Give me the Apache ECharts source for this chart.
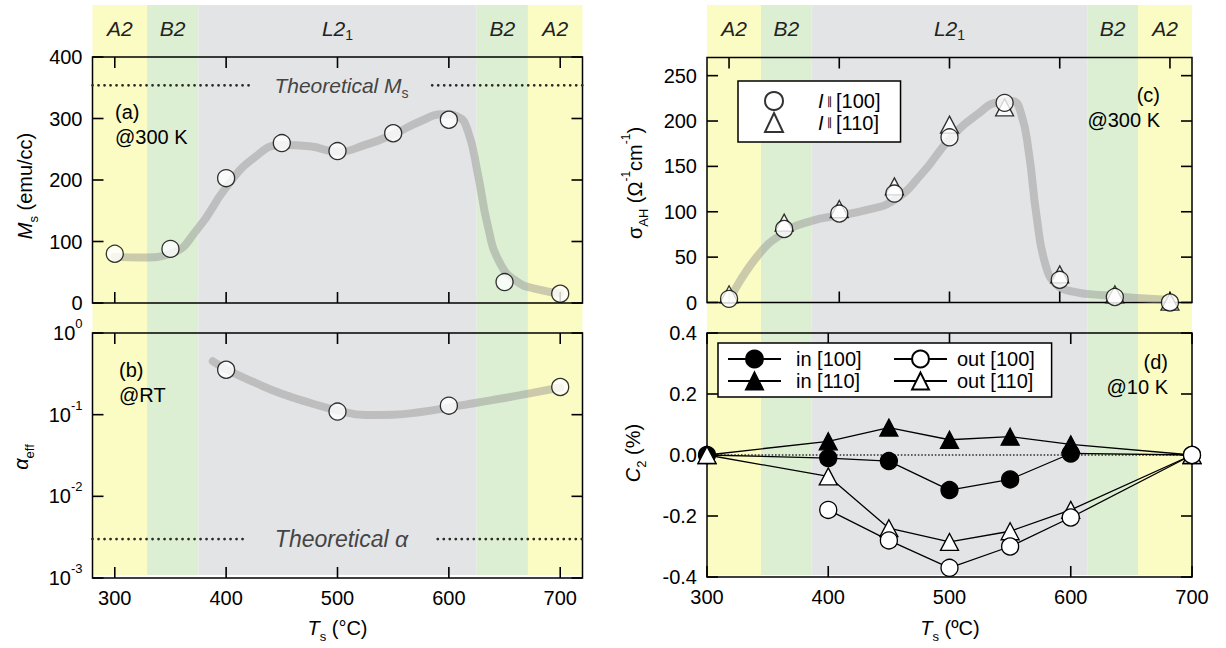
<!DOCTYPE html>
<html><head><meta charset="utf-8">
<script src="https://cdn.jsdelivr.net/npm/echarts@6.0.0/dist/echarts.min.js"></script>
<style>html,body{margin:0;padding:0;background:#fff}#c{width:1226px;height:648px}</style>
</head><body><div id="c"></div>
<script>
const F = '"Liberation Sans", Arial, Helvetica, sans-serif';

// ---- phase bands (both columns) ----
const bandNames = ['A2', 'B2', 'L21', 'B2', 'A2'];
const bandFrom  = [280, 329, 375, 625, 671];
const bandTo    = [329, 375, 625, 671, 720];
const bandColor = ['#fbfcc4', '#dcefd3', '#e3e4e6', '#dcefd3', '#fbfcc4'];

// ---- (a) Ms ----
const tsA = [300, 350, 400, 450, 500, 550, 600, 650, 700];
const msA = [80, 88, 203, 260, 247, 276, 298, 34, 15];
const msGuideT = [300, 325, 350, 375, 400, 425, 450, 475, 500, 525, 550, 575, 595, 608, 617, 626, 635, 645, 660, 680, 700];
const msGuideV = [75, 74, 80, 122, 188, 236, 257, 255, 246, 257, 274, 296, 307, 303, 280, 210, 125, 68, 36, 22, 16];
const msTheory = 354;
const msTheoryLeftEnd = 422, msTheoryRightStart = 585;

// ---- (b) alpha_eff ----
const tsB = [400, 500, 600, 700];
const alphaB = [0.355, 0.109, 0.129, 0.218];
const alphaGuideT = [388, 400, 425, 450, 475, 500, 525, 550, 575, 600, 625, 650, 675, 700];
const alphaGuideV = [0.45, 0.36, 0.25, 0.18, 0.14, 0.113, 0.099, 0.1, 0.108, 0.122, 0.14, 0.16, 0.185, 0.215];
const alphaTheory = 0.003;
const alphaTheoryLeftEnd = 419, alphaTheoryRightStart = 590;

// ---- (c) sigma_AH ----
const tsC = [300, 350, 400, 450, 500, 550, 600, 650, 700];
const sig100 = [4, 81, 98, 120, 182, 220, 25, 6, 0];
const sig110 = [9, 88, 103, 128, 196, 215, 31, 9, 1];
const sigGuideT = [300, 325, 350, 375, 400, 425, 450, 475, 500, 525, 545, 557, 565, 572, 579, 587, 597, 612, 640, 670, 700];
const sigGuideV = [2, 50, 77, 90, 96, 102, 113, 142, 180, 207, 221, 222, 208, 165, 95, 42, 20, 12, 8, 5, 3];

// ---- (d) C2 ----
const tsD = [300, 400, 450, 500, 550, 600, 700];
const in100  = [0, -0.01, -0.02, -0.115, -0.08, 0.005, 0];
const in110  = [0, 0.045, 0.09, 0.05, 0.06, 0.035, 0];
const out100 = [null, -0.18, -0.28, -0.37, -0.30, -0.205, 0];
const out110 = [0, -0.07, -0.24, -0.285, -0.25, -0.18, 0];

// ---- tick values ----
const xTicks = [300, 400, 500, 600, 700];
const msTicks = [0, 100, 200, 300, 400];
const alphaTicks = [0.001, 0.01, 0.1, 1];
const sigTicks = [0, 50, 100, 150, 200, 250];
const c2Ticks = [-0.4, -0.2, 0, 0.2, 0.4];

const pairs = (xs, ys) => xs.map((x, i) => [x, ys[i]]).filter(p => p[1] !== null);

const lab = (show, extra) => Object.assign({show: show, color: '#000', fontFamily: F, fontSize: 20, margin: 10, hideOverlap: false}, extra || {});
function xAx(grid, pos, min, max, showLabel, custom, interval) {
  const a = {type: 'value', gridIndex: grid, position: pos, min: min, max: max, z: 6,
    axisLine: {show: false, onZero: false}, splitLine: {show: false}, axisTick: {show: false},
    axisLabel: lab(showLabel, custom ? {customValues: custom} : {})};
  if (interval) a.interval = interval;
  return a;
}
function yAx(grid, pos, opts, showLabel, labExtra, custom) {
  return Object.assign({type: 'value', gridIndex: grid, position: pos, z: 6,
    axisLine: {show: false, onZero: false}, splitLine: {show: false}, axisTick: {show: false},
    axisLabel: lab(showLabel, Object.assign(custom ? {customValues: custom} : {}, labExtra || {}))}, opts);
}
const hidden = (grid, min, max) => ({type: 'value', gridIndex: grid, min: min, max: max, show: false, axisLine: {show: false, onZero: false}});

const frame = {show: true, borderColor: '#000', borderWidth: 1.5, backgroundColor: 'transparent', z: 3, outerBoundsMode: 'none', containLabel: false};
const grids = [
  {left: 92.5, top: 5, width: 490, height: 570, show: false, outerBoundsMode: 'none'},
  {left: 707, top: 5, width: 485, height: 570, show: false, outerBoundsMode: 'none'},
  Object.assign({left: 92.5, top: 57, width: 490, height: 246}, frame),
  Object.assign({left: 92.5, top: 333, width: 490, height: 245}, frame),
  Object.assign({left: 707, top: 57.5, width: 485, height: 245}, frame),
  Object.assign({left: 707, top: 333, width: 485, height: 244}, frame)
];

const xAxes = [
  hidden(0, 280, 720), hidden(1, 280, 720),
  xAx(2, 'bottom', 280, 720, false, xTicks),
  xAx(3, 'bottom', 280, 720, true, xTicks),
  xAx(4, 'bottom', 280, 720, false, xTicks),
  xAx(5, 'bottom', 300, 700, true, null, 100)
];
const logLab = {formatter: v => '{b|10}{s|' + Math.round(Math.log10(v)) + '}',
  rich: {b: {fontSize: 20, fontFamily: F, color: '#000', lineHeight: 32}, s: {fontSize: 13, fontFamily: F, color: '#000', lineHeight: 14, verticalAlign: 'top'}}};
const yAxes = [
  hidden(0, 0, 1), hidden(1, 0, 1),
  yAx(2, 'left', {min: 0, max: 400, interval: 100}, true),
  yAx(3, 'left', {type: 'log', logBase: 10, min: 0.001, max: 1}, true, logLab),
  yAx(4, 'left', {min: 0, max: 270}, true, null, sigTicks),
  yAx(5, 'left', {min: -0.4, max: 0.4, interval: 0.2}, true, {formatter: v => (Math.abs(v) < 1e-9 ? 0 : v).toFixed(1)})
];

// inward ticks on all four sides of a panel, placed through the panel's own scales
const tickSeries = (ai, xr, yr, xs, ys) => ({
  type: 'custom', xAxisIndex: ai, yAxisIndex: ai, z: 5, silent: true, clip: false,
  data: xs.map(v => [v, yr[0], 0]).concat(ys.map(v => [xr[0], v, 1])),
  encode: {x: 0, y: 1},
  renderItem: (params, api) => {
    const L = 11, st = {stroke: '#000', lineWidth: 1.6};
    if (api.value(2) === 0) {
      const v = api.value(0);
      const b = api.coord([v, yr[0]]), t = api.coord([v, yr[1]]);
      return {type: 'group', children: [
        {type: 'line', shape: {x1: b[0], y1: b[1], x2: b[0], y2: b[1] - L}, style: st},
        {type: 'line', shape: {x1: t[0], y1: t[1], x2: t[0], y2: t[1] + L}, style: st}]};
    }
    const v = api.value(1);
    const l = api.coord([xr[0], v]), r = api.coord([xr[1], v]);
    return {type: 'group', children: [
      {type: 'line', shape: {x1: l[0], y1: l[1], x2: l[0] + L, y2: l[1]}, style: st},
      {type: 'line', shape: {x1: r[0], y1: r[1], x2: r[0] - L, y2: r[1]}, style: st}]};
  }
});

const openSym = {color: '#fff', borderColor: '#000', borderWidth: 1.3};
const fillSym = {color: '#000', borderColor: '#000', borderWidth: 1.3};
const guide = (xi, yi, ts, vs) => ({type: 'line', xAxisIndex: xi, yAxisIndex: yi, data: pairs(ts, vs), smooth: 0.5,
  symbol: 'none', silent: true, z: 4, lineStyle: {color: 'rgba(145,145,145,0.45)', width: 8, cap: 'round', join: 'round'}});
const dotted = (xi, yi, pts) => ({type: 'line', xAxisIndex: xi, yAxisIndex: yi, data: pts, symbol: 'none', silent: true, z: 4,
  lineStyle: {color: '#2a2a22', width: 2.7, type: [0.1, 5.9], cap: 'round'}});

const bandRich = {
  i: {fontSize: 21, fontFamily: F, fontStyle: 'italic', fill: '#222', lineHeight: 28},
  s: {fontSize: 14, fontFamily: F, fill: '#222', verticalAlign: 'bottom', lineHeight: 15}
};
const bandLabel = n => n === 'L21' ? '{i|L2}{s|1}' : '{i|' + n + '}';
const bandSeries = (xi, yi) => ({
  type: 'custom', xAxisIndex: xi, yAxisIndex: yi, z: 0, silent: true, clip: false,
  data: bandNames.map((n, i) => [bandFrom[i], bandTo[i], i]),
  encode: {x: [0, 1]},
  renderItem: (params, api) => {
    const i = api.value(2);
    const p0 = api.coord([api.value(0), 1]);
    const p1 = api.coord([api.value(1), 0]);
    return {type: 'group', children: [
      {type: 'rect', shape: {x: p0[0], y: p0[1], width: p1[0] - p0[0], height: p1[1] - p0[1]}, style: {fill: bandColor[i]}},
      {type: 'text', x: (p0[0] + p1[0]) / 2, y: p0[1] + 23,
        style: {text: bandLabel(bandNames[i]), rich: bandRich, align: 'center', verticalAlign: 'middle', fontSize: 21, fontFamily: F, fill: '#222'}}
    ]};
  }
});

const series = [
  bandSeries(0, 0), bandSeries(1, 1),
  tickSeries(2, [280, 720], [0, 400], xTicks, msTicks),
  tickSeries(3, [280, 720], [0.001, 1], xTicks, alphaTicks),
  tickSeries(4, [280, 720], [0, 270], xTicks, sigTicks),
  tickSeries(5, [300, 700], [-0.4, 0.4], xTicks, c2Ticks),
  // (a)
  guide(2, 2, msGuideT, msGuideV),
  dotted(2, 2, [[280, msTheory], [msTheoryLeftEnd, msTheory]]),
  dotted(2, 2, [[msTheoryRightStart, msTheory], [720, msTheory]]),
  {type: 'scatter', name: 'Ms', xAxisIndex: 2, yAxisIndex: 2, data: pairs(tsA, msA), symbol: 'circle', symbolSize: 17, itemStyle: openSym, z: 6},
  // (b)
  guide(3, 3, alphaGuideT, alphaGuideV),
  dotted(3, 3, [[280, alphaTheory], [alphaTheoryLeftEnd, alphaTheory]]),
  dotted(3, 3, [[alphaTheoryRightStart, alphaTheory], [720, alphaTheory]]),
  {type: 'scatter', name: 'alpha', xAxisIndex: 3, yAxisIndex: 3, data: pairs(tsB, alphaB), symbol: 'circle', symbolSize: 17, itemStyle: openSym, z: 6},
  // (c)
  guide(4, 4, sigGuideT, sigGuideV),
  {type: 'scatter', name: 'I ∥ [110]', xAxisIndex: 4, yAxisIndex: 4, data: pairs(tsC, sig110), symbol: 'triangle', symbolSize: [18, 17], itemStyle: openSym, z: 6},
  {type: 'scatter', name: 'I ∥ [100]', xAxisIndex: 4, yAxisIndex: 4, data: pairs(tsC, sig100), symbol: 'circle', symbolSize: 17, itemStyle: openSym, z: 7},
  // (d)
  {type: 'line', xAxisIndex: 5, yAxisIndex: 5, data: [[300, 0], [700, 0]], symbol: 'none', silent: true, z: 4,
    lineStyle: {color: '#333', width: 1.4, type: [1.6, 1.8]}},
  {type: 'line', name: 'in [100]', xAxisIndex: 5, yAxisIndex: 5, data: pairs(tsD, in100), symbol: 'circle', symbolSize: 17,
    itemStyle: fillSym, lineStyle: {color: '#000', width: 1.3}, z: 7},
  {type: 'line', name: 'in [110]', xAxisIndex: 5, yAxisIndex: 5, data: pairs(tsD, in110), symbol: 'triangle', symbolSize: [18, 17],
    itemStyle: fillSym, lineStyle: {color: '#000', width: 1.3}, z: 7},
  {type: 'line', name: 'out [110]', xAxisIndex: 5, yAxisIndex: 5, data: pairs(tsD, out110), symbol: 'triangle', symbolSize: [18, 17],
    itemStyle: openSym, lineStyle: {color: '#000', width: 1.3}, z: 7},
  {type: 'line', name: 'out [100]', xAxisIndex: 5, yAxisIndex: 5, data: pairs(tsD, out100), symbol: 'circle', symbolSize: 17,
    itemStyle: openSym, lineStyle: {color: '#000', width: 1.3}, z: 7}
];

const legText = {fontSize: 20, fontFamily: F, color: '#000'};
const legends = [
  {orient: 'vertical', left: 738, top: 81, data: ['I ∥ [100]', 'I ∥ [110]'], selectedMode: false, z: 10,
    itemWidth: 18, itemHeight: 19, itemGap: 1, padding: [10, 20, 9, 26],
    backgroundColor: '#fff', borderColor: '#000', borderWidth: 1.5, borderRadius: 0,
    formatter: n => '{i|I}{p| \u2225 }{n|' + n.split(' ').pop() + '}',
    textStyle: Object.assign({padding: [0, 0, 0, 30], rich: {
      i: {fontSize: 20, fontFamily: F, fontStyle: 'italic', color: '#000', lineHeight: 19},
      p: {fontSize: 11, fontFamily: '"DejaVu Sans", sans-serif', color: '#000', lineHeight: 19},
      n: {fontSize: 20, fontFamily: F, color: '#000', lineHeight: 19}}}, legText)},
  {orient: 'vertical', left: 718, top: 343, data: ['in [100]', 'in [110]'], selectedMode: false, z: 10,
    itemWidth: 53, itemHeight: 21, itemGap: 2, padding: [6, 190, 6, 9],
    backgroundColor: '#fff', borderColor: '#000', borderWidth: 1.5, borderRadius: 0,
    textStyle: Object.assign({padding: [0, 0, 0, 10]}, legText)},
  {orient: 'vertical', left: 893, top: 349, data: ['out [100]', 'out [110]'], selectedMode: false, z: 11,
    itemWidth: 53, itemHeight: 21, itemGap: 2, padding: 0,
    textStyle: Object.assign({padding: [0, 0, 0, 5]}, legText)}
];

const R = {
  n: {fontSize: 20, fontFamily: F, fill: '#000', lineHeight: 30},
  i: {fontSize: 20, fontFamily: F, fontStyle: 'italic', fill: '#000', lineHeight: 30},
  sub: {fontSize: 13, fontFamily: F, fill: '#000', verticalAlign: 'bottom', lineHeight: 14},
  sup: {fontSize: 12, fontFamily: F, fill: '#000', verticalAlign: 'top', lineHeight: 14},
  g: {fontSize: 21, fontFamily: F, fontStyle: 'italic', fill: '#444', lineHeight: 30},
  gs: {fontSize: 14, fontFamily: F, fill: '#444', verticalAlign: 'bottom', lineHeight: 15},
  ga: {fontSize: 23, fontFamily: F, fontStyle: 'italic', fill: '#444', lineHeight: 30}
};
const T = (x, y, text, align, rot) => ({type: 'text', x: x, y: y, rotation: rot || 0, z: 20, silent: true,
  style: {text: text, rich: R, align: align || 'left', verticalAlign: 'middle', fontSize: 20, fontFamily: F, fill: '#000'}});
const graphics = [
  T(25, 186, '{i|M}{sub|s}{n| (emu/cc)}', 'center', Math.PI / 2),
  T(21, 457, '{i|α}{sub|eff}', 'center', Math.PI / 2),
  T(635, 183, '{n|σ}{sub|AH}{n| (Ω}{sup|-1}{n|cm}{sup|-1}{n|)}', 'center', Math.PI / 2),
  T(633, 453, '{i|C}{sub|2}{n| (%)}', 'center', Math.PI / 2),
  T(337.5, 628, '{i|T}{sub|s}{n| (°C)}', 'center'),
  T(950, 628, '{i|T}{sub|s}{n| (ºC)}', 'center'),
  T(115, 112, '{n|(a)}'), T(115, 137, '{n|@300 K}'),
  T(119, 370, '{n|(b)}'), T(119, 395, '{n|@RT}'),
  T(1160, 95, '{n|(c)}', 'right'), T(1160, 120, '{n|@300 K}', 'right'),
  T(1168, 362, '{n|(d)}', 'right'), T(1168, 387, '{n|@10 K}', 'right'),
  T(341.5, 85, '{g|Theoretical }{g|M}{gs|s}', 'center'),
  T(341.5, 539, '{ga|Theoretical α}', 'center')
];

const chart = echarts.init(document.getElementById('c'), null, {renderer: 'svg', width: 1226, height: 648});
chart.setOption({
  animation: false,
  backgroundColor: '#fff',
  grid: grids, xAxis: xAxes, yAxis: yAxes,
  legend: legends, series: series,
  graphic: {elements: graphics}
});
</script></body></html>
